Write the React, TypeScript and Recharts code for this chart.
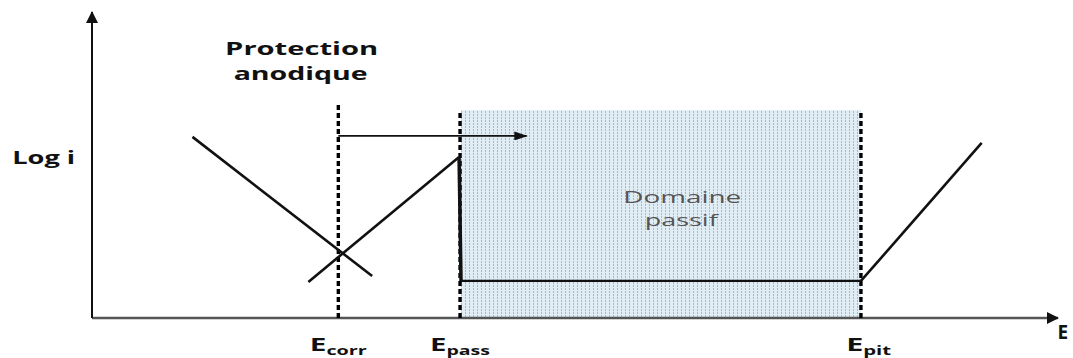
import React from 'react';
import {
  ComposedChart,
  Line,
  XAxis,
  YAxis,
  ReferenceArea,
  ReferenceDot,
} from 'recharts';

// Characteristic potentials (arbitrary E units, 0..100)
const E_CORR = 25.5;
const E_PASS = 38.1;
const E_PIT = 79.6;

// Polarisation branches (E, log i) in arbitrary units
const cathodicBranch = [
  { x: 10.4, y: 59.2 },
  { x: 29.0, y: 13.7 },
];
const anodicBranch = [
  { x: 22.4, y: 11.8 },
  { x: 38.0, y: 52.6 },
];
const passivationDrop = [
  { x: 38.0, y: 52.6 },
  { x: 38.2, y: 12.1 },
];
const passivePlateau = [
  { x: 38.2, y: 12.1 },
  { x: 79.6, y: 12.1 },
];
const pittingBranch = [
  { x: 79.6, y: 12.1 },
  { x: 92.1, y: 57.2 },
];

const PASSIVE_TOP = 68;
const ECORR_TOP = 70;
const PROTECTION_ARROW = { from: 25.5, to: 45.0, y: 59.5 };

// Guides: axes, potential markers and the protection shift
const xAxisLine = [
  { x: 0, y: 0 },
  { x: 100, y: 0 },
];
const yAxisLine = [
  { x: 0, y: 0 },
  { x: 0, y: 100 },
];
const eCorrLine = [
  { x: E_CORR, y: 0 },
  { x: E_CORR, y: ECORR_TOP },
];
const ePassLine = [
  { x: E_PASS, y: 0 },
  { x: E_PASS, y: PASSIVE_TOP },
];
const ePitLine = [
  { x: E_PIT, y: 0 },
  { x: E_PIT, y: PASSIVE_TOP },
];
const protectionShift = [
  { x: PROTECTION_ARROW.from, y: PROTECTION_ARROW.y },
  { x: PROTECTION_ARROW.to, y: PROTECTION_ARROW.y },
];

const FONT = '"Open Sans", "Liberation Sans", sans-serif';

type TextSpec = {
  text: string;
  size: number;
  weight: number;
  color: string;
  length?: number;
};

const makeText = (spec: TextSpec) => (props: any) => {
  const vb = props.viewBox || {};
  const cx = (vb.x ?? 0) + (vb.width ?? 0) / 2;
  const cy = (vb.y ?? 0) + (vb.height ?? 0) / 2;
  return (
    <text
      x={cx}
      y={cy}
      textAnchor="middle"
      dominantBaseline="central"
      fontFamily={FONT}
      fontSize={spec.size}
      fontWeight={spec.weight}
      fill={spec.color}
      textLength={spec.length}
      lengthAdjust={spec.length ? 'spacingAndGlyphs' : undefined}
    >
      {spec.text}
    </text>
  );
};

const makeSubscript = (main: string, sub: string, width: number) => (props: any) => {
  const vb = props.viewBox || {};
  const cx = (vb.x ?? 0) + (vb.width ?? 0) / 2;
  const cy = (vb.y ?? 0) + (vb.height ?? 0) / 2;
  return (
    <text
      x={cx}
      y={cy + 6}
      textAnchor="middle"
      fontFamily={FONT}
      fontWeight={700}
      fill="#111"
      textLength={width}
      lengthAdjust="spacingAndGlyphs"
    >
      <tspan fontSize={18}>{main}</tspan>
      <tspan fontSize={12} dy={4}>
        {sub}
      </tspan>
    </text>
  );
};

// Free-standing annotations placed in data coordinates
const labels: { x: number; y: number; render: (p: any) => React.ReactElement }[] = [
  { x: 21.7, y: 88.2, render: makeText({ text: 'Protection', size: 18, weight: 700, color: '#111', length: 153 }) },
  { x: 21.6, y: 80.1, render: makeText({ text: 'anodique', size: 18, weight: 700, color: '#111', length: 134 }) },
  { x: -5.0, y: 52.3, render: makeText({ text: 'Log i', size: 17, weight: 700, color: '#111', length: 63 }) },
  { x: 61.1, y: 39.5, render: makeText({ text: 'Domaine', size: 16, weight: 400, color: '#555', length: 118 }) },
  { x: 61.0, y: 32.0, render: makeText({ text: 'passif', size: 16, weight: 400, color: '#555', length: 73 }) },
  { x: 100.5, y: -4.6, render: makeText({ text: 'E', size: 19, weight: 700, color: '#111' }) },
  { x: E_CORR, y: -8.8, render: makeSubscript('E', 'corr', 57) },
  { x: E_PASS, y: -8.8, render: makeSubscript('E', 'pass', 60) },
  { x: E_PIT + 0.8, y: -8.8, render: makeSubscript('E', 'pit', 45) },
];

const guide = (
  key: string,
  data: { x: number; y: number }[],
  width: number,
  extra: Record<string, any> = {},
) => (
  <Line
    key={key}
    data={data}
    dataKey="y"
    stroke="#111"
    strokeWidth={width}
    dot={false}
    activeDot={false}
    isAnimationActive={false}
    {...extra}
  />
);

export default function App() {
  return (
    <div style={{ position: 'absolute', left: 0, top: 0, background: '#fff' }}>
      <ComposedChart
        width={1073}
        height={358}
        margin={{ top: 12, right: 15, bottom: 40, left: 92 }}
      >
        <defs>
          <pattern id="passiveHatch" width="4" height="3" patternUnits="userSpaceOnUse">
            <rect width="4" height="3" fill="#e1edf4" />
            <rect x="1" y="0" width="1" height="2" fill="#a3bccb" />
          </pattern>
          <marker
            id="axisHead"
            viewBox="0 0 12 12"
            refX="11"
            refY="6"
            markerWidth="13"
            markerHeight="12"
            markerUnits="userSpaceOnUse"
            orient="auto"
          >
            <path d="M0,0 L12,6 L0,12 Z" fill="#111" />
          </marker>
          <marker
            id="smallHead"
            viewBox="0 0 12 8"
            refX="11"
            refY="4"
            markerWidth="15"
            markerHeight="9"
            markerUnits="userSpaceOnUse"
            orient="auto"
          >
            <path d="M0,0 L12,4 L0,8 Z" fill="#111" />
          </marker>
        </defs>

        <XAxis dataKey="x" type="number" domain={[0, 100]} hide />
        <YAxis dataKey="y" type="number" domain={[0, 100]} hide />

        <ReferenceArea
          x1={E_PASS + 0.1}
          x2={E_PIT}
          y1={0}
          y2={PASSIVE_TOP}
          fill="url(#passiveHatch)"
          fillOpacity={1}
          stroke="none"
        />

        {guide('xAxis', xAxisLine, 2.5, { stroke: '#555', markerEnd: 'url(#axisHead)' })}
        {guide('yAxis', yAxisLine, 2, { markerEnd: 'url(#axisHead)' })}
        {guide('eCorr', eCorrLine, 3.4, { stroke: '#000', strokeDasharray: '5 3' })}
        {guide('ePass', ePassLine, 3.4, { stroke: '#000', strokeDasharray: '5 3' })}
        {guide('ePit', ePitLine, 3.4, { stroke: '#000', strokeDasharray: '5 3' })}
        {guide('shift', protectionShift, 1.8, { markerEnd: 'url(#smallHead)' })}

        <Line data={cathodicBranch} dataKey="y" stroke="#111" strokeWidth={2.6} dot={false} isAnimationActive={false} />
        <Line data={anodicBranch} dataKey="y" stroke="#111" strokeWidth={2.6} dot={false} isAnimationActive={false} />
        <Line data={passivationDrop} dataKey="y" stroke="#111" strokeWidth={3.5} dot={false} isAnimationActive={false} />
        <Line data={passivePlateau} dataKey="y" stroke="#111" strokeWidth={2.2} dot={false} isAnimationActive={false} />
        <Line data={pittingBranch} dataKey="y" stroke="#111" strokeWidth={2.6} dot={false} isAnimationActive={false} />

        {labels.map((l, i) => (
          <ReferenceDot
            key={i}
            x={l.x}
            y={l.y}
            r={0}
            fill="none"
            stroke="none"
            ifOverflow="visible"
            label={{ content: l.render }}
          />
        ))}
      </ComposedChart>
    </div>
  );
}
